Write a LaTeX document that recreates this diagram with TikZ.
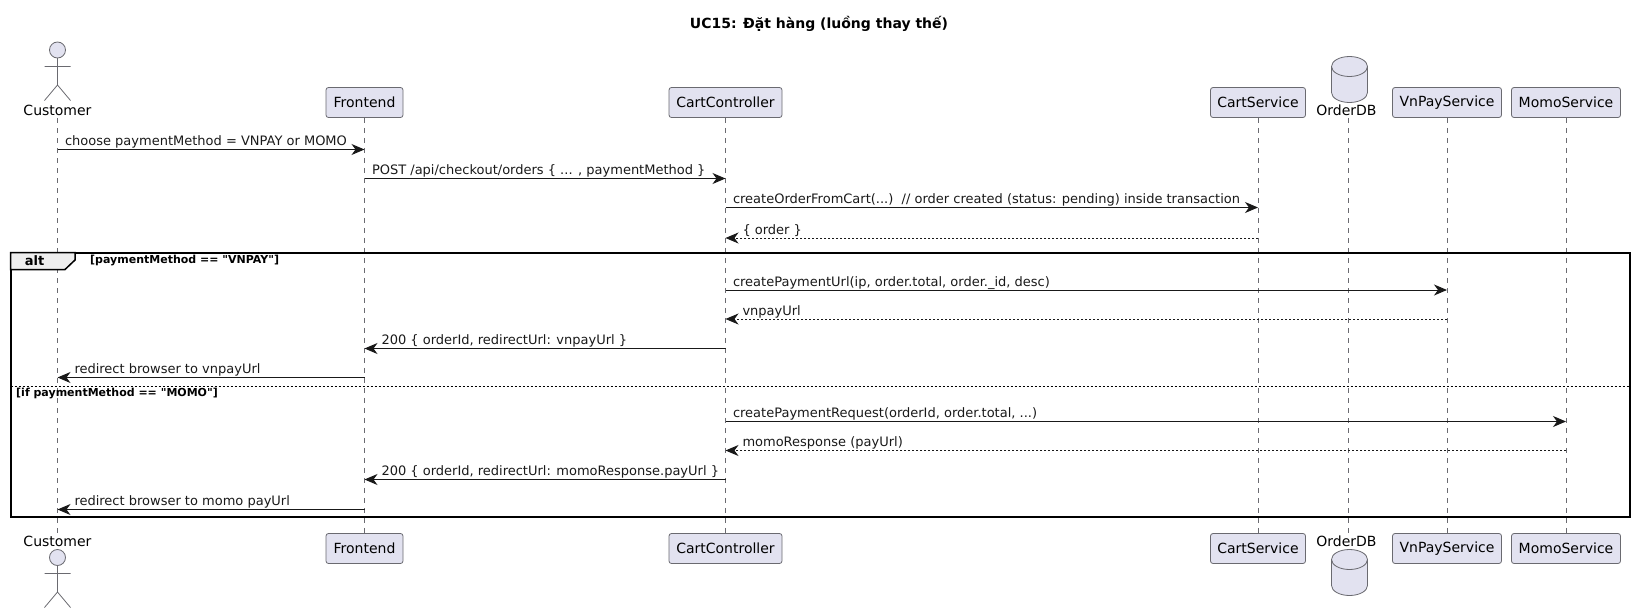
\documentclass[tikz,border=0pt]{standalone}
\usepackage{fontspec}
\setmainfont[Ligatures=TeXOff]{DejaVu Sans}
\usetikzlibrary{arrows.meta}
\definecolor{partfill}{HTML}{E2E2F0}
\definecolor{partline}{HTML}{6A6A70}
\definecolor{tabfill}{HTML}{EEEEEE}
\newcommand{\msgfont}{\fontsize{13}{16}\selectfont}
\newcommand{\partfont}{\fontsize{14}{16}\selectfont}
\begin{document}
\begin{tikzpicture}[
  x=1pt, y=-1pt,
  part/.style={rectangle, draw=partline, fill=partfill, minimum height=30pt,
    inner sep=0pt, font=\partfont, rounded corners=2.5pt, line width=0.8pt},
  actorlabel/.style={inner sep=0pt, minimum height=16pt, font=\partfont},
  figure/.style={draw=partline, fill=partfill, line width=0.8pt},
  life/.style={draw=partline, line width=0.7pt, dash pattern=on 5pt off 5pt},
  msg/.style={-{Stealth[length=13pt,width=11pt,inset=4pt]}, black!90, line width=1pt},
  ret/.style={msg, dash pattern=on 2pt off 2pt},
  right label/.style={pos=0, anchor=base west, inner sep=0pt, xshift=7pt, yshift=4pt, font=\msgfont},
  left label/.style={pos=1, anchor=base west, inner sep=0pt, xshift=16.5pt, yshift=4pt, font=\msgfont},
  framelabel/.style={inner sep=0pt, font=\fontsize{11}{13}\bfseries\selectfont},
]
  \useasboundingbox (0,0) rectangle (1636,613);
  \node[font=\fontsize{14}{16}\bfseries\selectfont] (title) at (819,24) {UC15: Đặt hàng (luồng thay thế)};

  % heads
  \node[actorlabel] (customerT) at (57.5,110) {Customer};
  \node[part, minimum width=77pt] (frontendT) at (364.5,102.5) {Frontend};
  \node[part, minimum width=113pt] (controllerT) at (725.5,102.5) {CartController};
  \node[part, minimum width=95pt] (cartserviceT) at (1258,102.5) {CartService};
  \node[actorlabel] (orderdbT) at (1346.5,110) {OrderDB};
  \node[part, minimum width=109pt] (vnpayT) at (1447,102.5) {VnPayService};
  \node[part, minimum width=109pt] (momoT) at (1566,102.5) {MomoService};

  % feet
  \node[actorlabel] (customerB) at (57.5,541) {Customer};
  \node[part, minimum width=77pt] (frontendB) at (364.5,548.5) {Frontend};
  \node[part, minimum width=113pt] (controllerB) at (725.5,548.5) {CartController};
  \node[part, minimum width=95pt] (cartserviceB) at (1258,548.5) {CartService};
  \node[actorlabel] (orderdbB) at (1346.5,541) {OrderDB};
  \node[part, minimum width=109pt] (vnpayB) at (1447,548.5) {VnPayService};
  \node[part, minimum width=109pt] (momoB) at (1566,548.5) {MomoService};

  \coordinate (orderdbU) at (1348,118);
  \coordinate (orderdbD) at (1348,533);

  % lifelines
  \draw[life] (customerT) -- (customerB);
  \draw[life] (frontendT) -- (frontendB);
  \draw[life] (controllerT) -- (controllerB);
  \draw[life] (cartserviceT) -- (cartserviceB);
  \draw[life] (orderdbU) -- (orderdbD);
  \draw[life] (vnpayT) -- (vnpayB);
  \draw[life] (momoT) -- (momoB);

  % customer figures
  \draw[figure] (57.5,50) circle (8pt);
  \draw[partline, line width=0.8pt] (57.5,58) -- (57.5,85) (44.5,66.5) -- (70.5,66.5)
    (44.5,100.5) -- (57.5,85) -- (70.5,100.5);
  \draw[figure] (57.5,557.5) circle (8pt);
  \draw[partline, line width=0.8pt] (57.5,565.5) -- (57.5,592) (44.5,573.5) -- (70.5,573.5)
    (44.5,607.5) -- (57.5,592) -- (70.5,607.5);

  % database cylinders
  \draw[figure] (1331.5,66.5) arc[start angle=180,end angle=0,x radius=18pt,y radius=10pt]
    -- (1367.5,92.5) arc[start angle=0,end angle=-180,x radius=18pt,y radius=10pt] -- cycle;
  \draw[partline, line width=0.8pt] (1331.5,66.5) arc[start angle=180,end angle=360,x radius=18pt,y radius=10pt];
  \draw[figure] (1331.5,559.5) arc[start angle=180,end angle=0,x radius=18pt,y radius=10pt]
    -- (1367.5,585.5) arc[start angle=0,end angle=-180,x radius=18pt,y radius=10pt] -- cycle;
  \draw[partline, line width=0.8pt] (1331.5,559.5) arc[start angle=180,end angle=360,x radius=18pt,y radius=10pt];

  % alt frame
  \draw[black, line width=2pt] (10.5,252.5) rectangle (1630,516.5);
  \draw[black, line width=1.5pt, fill=tabfill] (10.5,252.5) -- (75,252.5) -- (75,260) -- (65,269.5) -- (10.5,269.5) -- cycle;
  \node[font=\fontsize{13}{15}\bfseries\selectfont, inner sep=0pt] (alttab) at (34.5,260.5) {alt};
  \node[framelabel, anchor=west] (altguard) at (90,260.5) {[paymentMethod == "VNPAY"]};
  \draw[black, line width=1pt, dash pattern=on 2pt off 2pt] (10.5,386) -- (1630,386);
  \node[framelabel, anchor=west] (elseguard) at (16,393.5) {[if paymentMethod == "MOMO"]};

  % message rows
  \coordinate (m1) at (0,149.5);
  \coordinate (m2) at (0,178.5);
  \coordinate (m3) at (0,207.5);
  \coordinate (m4) at (0,238);
  \coordinate (m5) at (0,290);
  \coordinate (m6) at (0,319);
  \coordinate (m7) at (0,348.5);
  \coordinate (m8) at (0,377.5);
  \coordinate (m9) at (0,421.5);
  \coordinate (m10) at (0,450.5);
  \coordinate (m11) at (0,479.5);
  \coordinate (m12) at (0,509.5);

  \draw[msg] (customerT |- m1) -- node[right label] (t1) {choose paymentMethod = VNPAY or MOMO} (frontendT |- m1);
  \draw[msg] (frontendT |- m2) -- node[right label] (t2) {POST /api/checkout/orders \{ ... , paymentMethod \}} (controllerT |- m2);
  \draw[msg] (controllerT |- m3) -- node[right label] (t3) {createOrderFromCart(...)\ \ // order created (status: pending) inside transaction} (cartserviceT |- m3);
  \draw[ret] (cartserviceT |- m4) -- node[left label] (t4) {\{ order \}} (controllerT |- m4);

  \draw[msg] (controllerT |- m5) -- node[right label] (t5) {createPaymentUrl(ip, order.total, order.\_id, desc)} (vnpayT |- m5);
  \draw[ret] (vnpayT |- m6) -- node[left label] (t6) {vnpayUrl} (controllerT |- m6);
  \draw[msg] (controllerT |- m7) -- node[left label] (t7) {200 \{ orderId, redirectUrl: vnpayUrl \}} (frontendT |- m7);
  \draw[msg] (frontendT |- m8) -- node[left label] (t8) {redirect browser to vnpayUrl} (customerT |- m8);

  \draw[msg] (controllerT |- m9) -- node[right label] (t9) {createPaymentRequest(orderId, order.total, ...)} (momoT |- m9);
  \draw[ret] (momoT |- m10) -- node[left label] (t10) {momoResponse (payUrl)} (controllerT |- m10);
  \draw[msg] (controllerT |- m11) -- node[left label] (t11) {200 \{ orderId, redirectUrl: momoResponse.payUrl \}} (frontendT |- m11);
  \draw[msg] (frontendT |- m12) -- node[left label] (t12) {redirect browser to momo payUrl} (customerT |- m12);
\end{tikzpicture}
\end{document}
